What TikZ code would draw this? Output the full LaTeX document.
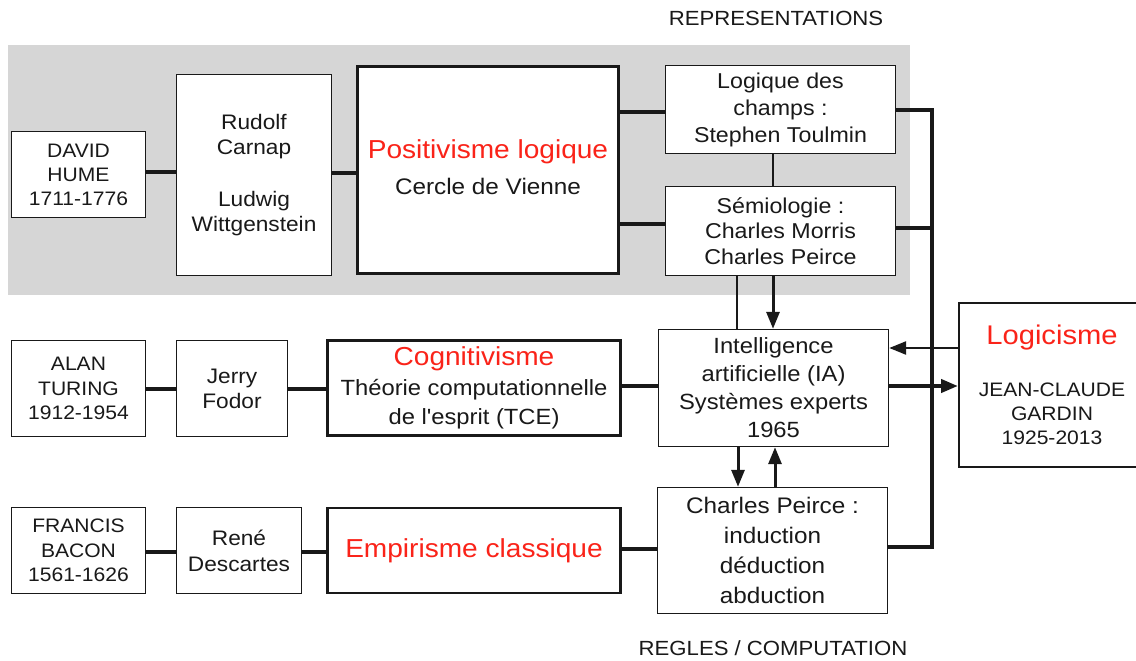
\documentclass[tikz,border=0pt]{standalone}
\usepackage{fontspec}
\setmainfont{Liberation Sans}[FakeStretch=1.08, Ligatures=TeXOff]
\usetikzlibrary{arrows.meta}
\definecolor{bggray}{RGB}{214,214,214}
\definecolor{tred}{RGB}{250,35,25}
\definecolor{ink}{RGB}{25,25,25}
\newcommand{\myfs}[2]{\fontsize{#1}{#2}\selectfont}
\begin{document}
\begin{tikzpicture}[x=1pt,y=-1pt,
  box/.style={draw=ink, line width=1.4pt, fill=white, align=center, inner sep=0pt, text=ink},
  heavy/.style={box, line width=2.8pt},
  wire/.style={draw=ink, line width=3.5pt},
  thinwire/.style={draw=ink, line width=2.8pt},
  arr/.style={draw=ink, line width=3pt, -{Triangle[length=17pt,width=13pt]}},
  caption/.style={text=ink, font=\myfs{20.5}{24}, inner sep=0pt, anchor=base},
]
\useasboundingbox (0,0) rectangle (1136,661);
\clip (0,0) rectangle (1136,661);
\fill[white] (0,0) rectangle (1136,661);
\fill[bggray] (8,45) rectangle (910,295);

% top row
\node[box, minimum width=134pt, minimum height=86pt, font=\myfs{19.5}{24}] (hume) at (78.5,174.5) {DAVID\\HUME\\1711-1776};
\node[box, minimum width=155pt, minimum height=201pt, font=\myfs{21}{25.5}] (carnap) at (254,175) {Rudolf\\Carnap\\[26pt]Ludwig\\Wittgenstein};
\node[heavy, minimum width=261pt, minimum height=207pt, font=\myfs{22.5}{36}] (posit) at (488,170) {{\color{tred}\myfs{26}{31}Positivisme logique}\\Cercle de Vienne\rule[-5pt]{0pt}{5pt}};
\node[box, minimum width=230pt, minimum height=88pt, font=\myfs{21.5}{27}] (toulmin) at (780.5,109.5) {Logique des\\champs :\\Stephen Toulmin};
\node[box, minimum width=230pt, minimum height=89pt, font=\myfs{21.5}{25.5}] (semio) at (780.5,231) {Sémiologie :\\Charles Morris\\Charles Peirce};

% middle row
\node[box, minimum width=134pt, minimum height=96pt, font=\myfs{19.5}{24.5}] (turing) at (78.5,388.5) {ALAN\\TURING\\1912-1954};
\node[box, minimum width=111pt, minimum height=96pt, font=\myfs{21}{25}] (fodor) at (232,388.5) {Jerry\\Fodor};
\node[heavy, minimum width=293pt, minimum height=95pt, font=\myfs{22}{29.5}] (cogn) at (474,388) {{\color{tred}\myfs{26}{31}Cognitivisme}\\Théorie computationnelle\\de l'esprit (TCE)};
\node[box, minimum width=230pt, minimum height=117pt, font=\myfs{22}{28}] (ia) at (773.5,388) {Intelligence\\artificielle (IA)\\Systèmes experts\\1965};
\node[box, line width=2pt, minimum width=186pt, minimum height=164pt, font=\myfs{19.5}{24}] (logic) at (1052,385) {{\color{tred}\myfs{27}{32}Logicisme}\\[28pt]JEAN-CLAUDE\\GARDIN\\1925-2013};

% bottom row
\node[box, minimum width=134pt, minimum height=86pt, font=\myfs{19.5}{24.5}] (bacon) at (78.5,550.5) {FRANCIS\\BACON\\1561-1626};
\node[box, minimum width=125pt, minimum height=86pt, font=\myfs{21}{26}] (desc) at (239,550.5) {René\\Descartes};
\node[heavy, minimum width=293pt, minimum height=85pt, font=\myfs{26}{31}, text=tred] (empir) at (474,550.5) {Empirisme classique};
\node[box, minimum width=230pt, minimum height=126pt, font=\myfs{22.5}{30}] (peirce) at (772.5,550.5) {Charles Peirce :\\induction\\déduction\\abduction};

% captions
\node[caption] (rep) at (776,26) {REPRESENTATIONS};
\node[caption] (reg) at (773,655) {REGLES / COMPUTATION};

% connectors
\draw[wire] (hume.east |- 0,172) -- (carnap.west |- 0,172);
\draw[wire] (carnap.east |- 0,173) -- (posit.west |- 0,173);
\draw[wire] (posit.east |- 0,112) -- (toulmin.west |- 0,112);
\draw[wire] (posit.east |- 0,224) -- (semio.west |- 0,224);
\draw[thinwire] (773,0 |- toulmin.south) -- (773,0 |- semio.north);
\coordinate (bustop) at (932,110);
\coordinate (busbot) at (932,547);
\draw[wire] (toulmin.east |- bustop) -- (bustop) -- (busbot) -- (peirce.east |- busbot);
\draw[wire] (semio.east |- 0,228) -- (932,228);
\draw[thinwire] (737,0 |- semio.south) -- (737,0 |- ia.north);
\draw[arr] (773,0 |- semio.south) -- (773,0 |- ia.north);
\draw[arr, line width=2.5pt] (logic.west |- 0,348) -- (ia.east |- 0,348);
\draw[arr, line width=4pt] (ia.east |- 0,386) -- (logic.west |- 0,386);
\draw[arr] (738,0 |- ia.south) -- (738,0 |- peirce.north);
\draw[arr] (775,0 |- peirce.north) -- (775,0 |- ia.south);
\draw[wire] (turing.east |- 0,389) -- (fodor.west |- 0,389);
\draw[wire] (fodor.east |- 0,389) -- (cogn.west |- 0,389);
\draw[wire] (cogn.east |- 0,386) -- (ia.west |- 0,386);
\draw[wire] (bacon.east |- 0,552) -- (desc.west |- 0,552);
\draw[wire] (desc.east |- 0,552) -- (empir.west |- 0,552);
\draw[wire] (empir.east |- 0,549) -- (peirce.west |- 0,549);
\end{tikzpicture}
\end{document}
